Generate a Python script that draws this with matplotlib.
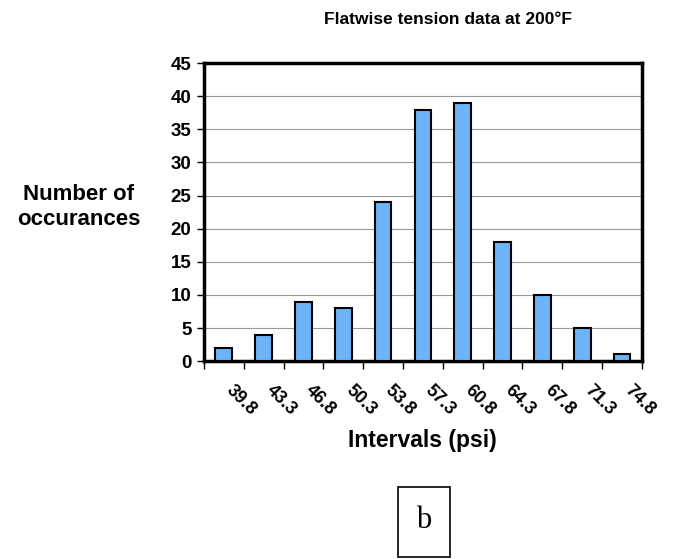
import matplotlib
matplotlib.use("Agg")
import matplotlib.pyplot as plt
import matplotlib.transforms as mtransforms
import numpy as np

intervals = ["39.8", "43.3", "46.8", "50.3", "53.8", "57.3", "60.8", "64.3", "67.8", "71.3", "74.8"]
counts = [2, 4, 9, 8, 24, 38, 39, 18, 10, 5, 1]
yticks = [0, 5, 10, 15, 20, 25, 30, 35, 40, 45]

plt.rcParams['font.family'] = ['Liberation Sans', 'DejaVu Sans']

fig = plt.figure(figsize=(6.75, 5.59), dpi=100)
ax = fig.add_axes([0.302, 0.354, 0.649, 0.533])

x = np.arange(len(counts))
ax.bar(x, counts, width=0.42, color='#6CB4F8', edgecolor='black', linewidth=1.5, zorder=3)

ax.set_xlim(-0.5, len(counts) - 0.5)
ax.set_ylim(0, 45)
ax.set_yticks(yticks)
ax.set_yticklabels([str(v) for v in yticks], fontsize=13.5, fontweight='bold')
ax.yaxis.grid(True, color='#999999', linewidth=0.8, zorder=0)
ax.set_axisbelow(True)

ax.set_xticks(np.arange(-0.5, len(counts), 1.0))
ax.set_xticklabels([])
ax.tick_params(axis='x', which='major', length=6, width=1, direction='out')
ax.tick_params(axis='y', which='major', length=5, width=1, direction='out', pad=4)

ax.set_xticks(x, minor=True)
ax.set_xticklabels(intervals, minor=True, fontsize=13, fontweight='bold',
                   rotation=-45, ha='left', va='top', rotation_mode='anchor')
ax.tick_params(axis='x', which='minor', length=0, pad=15)
offset = mtransforms.ScaledTranslation(11 / 100, 0, fig.dpi_scale_trans)
for lbl in ax.get_xticklabels(minor=True):
    lbl.set_transform(lbl.get_transform() + offset)

for s in ax.spines.values():
    s.set_linewidth(2.5)

fig.text(448 / 675, 1 - 20 / 559, "Flatwise tension data at 200°F", fontsize=12.5, fontweight='bold',
         ha='center', va='center')
fig.text(79 / 675, 1 - 207 / 559, "Number of\noccurances", fontsize=16, fontweight='bold',
         ha='center', va='center', linespacing=1.25)
fig.text(422 / 675, 1 - 440 / 559, "Intervals (psi)", fontsize=16.5, fontweight='bold',
         ha='center', va='center')

box = plt.Rectangle((398 / 675, 1 - 557 / 559), 52 / 675, 70 / 559, transform=fig.transFigure,
                    facecolor='none', edgecolor='black', linewidth=1.2)
fig.add_artist(box)
fig.text(424 / 675, 1 - 520 / 559, "b", fontsize=22, family='Liberation Serif',
         ha='center', va='center')

fig.savefig("out.png", dpi=100)
